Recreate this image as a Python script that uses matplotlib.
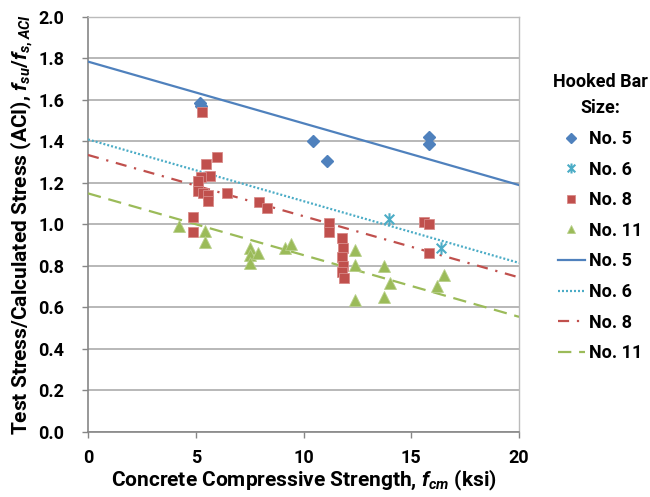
import numpy as np
import matplotlib.pyplot as plt
from matplotlib.path import Path

plt.rcParams['font.family'] = ['Roboto', 'DejaVu Sans']
plt.rcParams['font.weight'] = 'bold'
plt.rcParams['axes.labelweight'] = 'bold'
plt.rcParams['mathtext.fontset'] = 'custom'
plt.rcParams['mathtext.rm'] = 'Roboto:bold'
plt.rcParams['mathtext.it'] = 'Roboto:bold:italic'
plt.rcParams['mathtext.bf'] = 'Roboto:bold'

# test data (fcm in ksi, stress ratio)
no5_x = [5.2, 5.25, 10.45, 11.1, 15.8, 15.8]
no5_y = [1.585, 1.57, 1.40, 1.305, 1.42, 1.39]

no6_x = [13.97, 16.4]
no6_y = [1.025, 0.885]

no8_x = [5.28, 5.97, 5.46, 5.66, 5.26, 5.1, 5.12, 5.35, 5.57, 5.58, 6.47, 7.94, 8.32,
         4.87, 4.87, 11.18, 11.18, 11.8, 11.85, 11.8, 11.85, 11.8, 11.88,
         15.6, 15.82, 15.82]
no8_y = [1.54, 1.325, 1.29, 1.235, 1.227, 1.21, 1.16, 1.15, 1.14, 1.113, 1.15, 1.11, 1.078,
         1.035, 0.962, 1.009, 0.965, 0.936, 0.885, 0.845, 0.80, 0.772, 0.74,
         1.013, 1.0, 0.864]

no11_x = [4.22, 5.42, 5.42, 7.52, 7.52, 7.52, 7.89, 9.13, 9.44, 12.39, 12.39, 12.39,
          13.74, 14.01, 13.74, 16.21, 16.52]
no11_y = [0.994, 0.97, 0.917, 0.885, 0.853, 0.816, 0.861, 0.885, 0.904, 0.877, 0.805, 0.636,
          0.80, 0.717, 0.649, 0.703, 0.757]

# trend lines (end points at fcm = 0 and 20)
trend_x = [0, 20]
trend5 = [1.785, 1.19]
trend6 = [1.41, 0.815]
trend8 = [1.335, 0.745]
trend11 = [1.15, 0.555]

blue = '#4F81BD'
cyan = '#4BACC6'
red = '#C0504D'
green = '#9BBB59'

star = Path([(-1, -1), (1, 1), (-1, 1), (1, -1), (0, -1.3), (0, 1.3)],
            [Path.MOVETO, Path.LINETO, Path.MOVETO, Path.LINETO, Path.MOVETO, Path.LINETO])

fig = plt.figure(figsize=(6.5, 4.97), dpi=100)
ax = fig.add_axes([0.1354, 0.1308, 0.6631, 0.835])

ax.plot(no5_x, no5_y, 'D', color=blue, ms=6.5, mec=blue, label='No. 5', zorder=4)
ax.plot(no6_x, no6_y, ls='none', marker=star, color=cyan, ms=9, mew=1.5, label='No. 6', zorder=4)
ax.plot(no8_x, no8_y, 's', color=red, ms=7, mec='#D88A88', mew=0.6, label='No. 8', zorder=4)
ax.plot(no11_x, no11_y, '^', color=green, ms=8, mec='#B8D08A', mew=0.6, label='No. 11', zorder=4)

ax.plot(trend_x, trend5, color=blue, lw=1.6, label='No. 5', zorder=3)
ax.plot(trend_x, trend6, color=cyan, lw=1.6, dashes=(0.9, 0.9), label='No. 6', zorder=3)
ax.plot(trend_x, trend8, color=red, lw=1.6, dashes=(5, 3.5, 1, 3.5), label='No. 8', zorder=3)
ax.plot(trend_x, trend11, color=green, lw=1.6, dashes=(6, 3.5), label='No. 11', zorder=3)

ax.set_xlim(0, 20)
ax.set_ylim(0, 2.0)
ax.set_xticks([0, 5, 10, 15, 20])
ax.set_xticklabels(['0', '5', '10', '15', '20'])
ax.set_yticks(np.arange(0, 2.01, 0.2))
ax.set_yticklabels(['%.1f' % v for v in np.arange(0, 2.01, 0.2)])
ax.tick_params(axis='both', labelsize=13, length=4, color='#868686', width=1)
ax.tick_params(axis='x', pad=8)
ax.tick_params(axis='y', pad=13)

ax.yaxis.grid(True, color='#ABABAB', lw=1.2)
ax.set_axisbelow(True)
for s in ['top', 'right']:
    ax.spines[s].set_color('#BBBBBB')
    ax.spines[s].set_linewidth(1.0)
for s in ['left', 'bottom']:
    ax.spines[s].set_color('#868686')
    ax.spines[s].set_linewidth(1.2)

ax.set_xlabel(r'Concrete Compressive Strength, $f_{cm}$ (ksi)', fontsize=15, labelpad=1)
ax.set_ylabel(r'Test Stress/Calculated Stress (ACI), $f_{su}/f_{s,ACI}$', fontsize=15, labelpad=3)

handles, labels = ax.get_legend_handles_labels()
leg = fig.legend(handles, labels, title='Hooked Bar\nSize:', loc='upper center',
                 bbox_to_anchor=(0.923, 0.868), frameon=False, fontsize=13,
                 title_fontproperties={'weight': 'bold', 'size': 13},
                 handlelength=1.5, handletextpad=0.2, labelspacing=0.7,
                 borderaxespad=0, markerscale=0.8)
leg._legend_box.align = 'center'
leg.get_title().set_multialignment('center')
leg.get_title().set_linespacing(1.6)

fig.savefig('out.png', dpi=100)
